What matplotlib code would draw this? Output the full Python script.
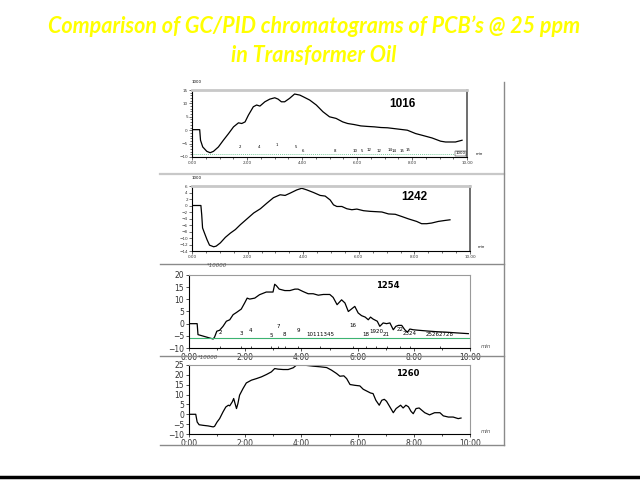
import matplotlib
matplotlib.use("Agg")
import matplotlib.pyplot as plt
from matplotlib.lines import Line2D
from matplotlib.ticker import MultipleLocator

W, H = 640, 480

# ---- data (time in min, response x1000 / x10000) ----
t1016 = [0.0, 0.28, 0.31, 0.39, 0.54, 0.66, 0.78, 0.96, 1.14, 1.33, 1.51, 1.69, 1.81, 1.93,
         2.05, 2.23, 2.35, 2.47, 2.65, 2.83, 3.01, 3.13, 3.25, 3.37, 3.55, 3.73, 3.92, 4.04,
         4.28, 4.52, 4.76, 5.0, 5.24, 5.48, 5.66, 5.9, 6.14, 6.39, 6.63, 6.87, 7.11, 7.35,
         7.83, 8.13, 8.37, 8.73, 9.04, 9.22, 9.58, 9.82]
y1016 = [0.2, 0.2, -3.75, -6.25, -7.9, -8.4, -7.9, -6.25, -3.75, -1.25, 1.25, 2.75, 2.5, 3.1,
         5.6, 8.75, 9.4, 9.0, 10.6, 11.6, 12.1, 11.6, 10.6, 10.6, 11.9, 13.5, 13.1, 12.5,
         11.25, 9.4, 6.9, 5.0, 4.4, 3.1, 2.5, 2.1, 1.6, 1.4, 1.25, 1.0, 0.9, 0.6,
         0.0, -1.25, -1.9, -2.9, -4.1, -4.4, -4.4, -3.75]
peaks1016_t = [1.75, 2.45, 3.1, 3.77, 4.04, 5.2, 5.94, 6.18, 6.45, 6.8, 7.2, 7.35, 7.65, 7.87]
peaks1016_y = [-6.3, -6.3, -5.6, -6.3, -7.6, -7.6, -7.6, -7.6, -7.4, -7.6, -7.4, -7.6, -7.6, -7.4]
peaks1016_lab = ["2", "4", "1", "5", "6", "8", "10", "5", "12", "12", "14", "14", "15", "15"]

t1242 = [0.0, 0.32, 0.35, 0.38, 0.45, 0.54, 0.63, 0.78, 0.87, 1.02, 1.2, 1.38, 1.56, 1.74,
         1.98, 2.22, 2.46, 2.69, 2.93, 3.17, 3.35, 3.53, 3.77, 3.95, 4.13, 4.37, 4.61, 4.79,
         4.97, 5.09, 5.21, 5.39, 5.57, 5.75, 5.93, 6.17, 6.41, 6.83, 7.07, 7.31, 7.55, 7.78,
         8.08, 8.26, 8.44, 8.62, 8.86, 9.1, 9.28]
y1242 = [0.0, 0.0, -2.9, -6.9, -8.5, -10.5, -12.2, -12.7, -12.5, -11.5, -9.8, -8.5, -7.4, -5.9,
         -4.1, -2.3, -1.0, 0.7, 2.4, 3.3, 3.1, 3.8, 4.8, 5.3, 4.8, 4.0, 3.1, 2.9,
         1.7, 0.2, -0.3, -0.3, -1.0, -1.3, -1.1, -1.6, -1.8, -2.0, -2.6, -2.7, -3.4, -4.1,
         -4.9, -5.6, -5.6, -5.4, -4.9, -4.6, -4.4]

t1254 = [0.0, 0.29, 0.32, 0.44, 0.62, 0.74, 0.86, 0.91, 0.99, 1.09, 1.21, 1.33, 1.45, 1.57,
         1.69, 1.86, 1.98, 2.07, 2.16, 2.34, 2.51, 2.75, 2.99, 3.05, 3.11, 3.21, 3.41, 3.59,
         3.77, 3.88, 4.06, 4.24, 4.42, 4.6, 4.78, 5.01, 5.13, 5.27, 5.43, 5.55, 5.67, 5.78,
         5.9, 6.02, 6.14, 6.27, 6.38, 6.46, 6.55, 6.7, 6.79, 6.91, 7.03, 7.15, 7.27, 7.36,
         7.45, 7.57, 7.68, 7.77, 7.86, 7.98, 8.16, 8.46, 8.81, 9.17, 9.53, 9.94]
y1254 = [0.0, 0.0, -4.5, -4.9, -5.5, -5.9, -6.3, -5.5, -3.1, -2.7, -1.1, 1.0, 1.6, 3.7,
         4.6, 6.0, 8.5, 10.5, 10.1, 10.5, 11.9, 13.0, 13.0, 16.2, 15.6, 14.2, 13.6, 13.6,
         14.2, 14.2, 13.2, 12.3, 12.3, 11.7, 12.0, 12.0, 10.8, 7.8, 9.8, 8.5, 5.0, 6.0,
         7.1, 4.4, 3.3, 2.7, 1.6, 2.7, 1.9, 1.0, -1.1, 0.3, 0.0, 0.3, -2.5, -1.1,
         -0.7, -0.7, -2.5, -3.5, -2.2, -2.5, -2.7, -3.0, -3.3, -3.5, -3.8, -4.1]
peaks1254_t = [1.12, 1.86, 2.19, 2.93, 3.17, 3.41, 3.88, 4.66, 5.82, 6.29, 6.67, 7.03, 7.5, 7.86, 8.93]
peaks1254_y = [-3.5, -4.1, -2.7, -4.9, -1.1, -4.5, -2.7, -4.5, -0.8, -4.5, -3.1, -4.5, -2.5, -4.1, -4.5]
peaks1254_lab = ["2", "3", "4", "5", "7", "8", "9", "10111345", "16", "18", "1920", "21", "22",
                 "2324", "25262728"]

t1260 = [0.0, 0.24, 0.29, 0.36, 0.5, 0.68, 0.86, 0.91, 1.0, 1.09, 1.21, 1.31, 1.4, 1.45,
         1.54, 1.59, 1.64, 1.69, 1.74, 1.8, 1.92, 2.04, 2.22, 2.4, 2.58, 2.76, 2.93, 3.05,
         3.17, 3.35, 3.53, 3.71, 3.83, 4.01, 4.18, 4.42, 4.66, 4.9, 5.07, 5.25, 5.37, 5.51,
         5.61, 5.73, 5.9, 6.08, 6.2, 6.46, 6.55, 6.65, 6.77, 6.86, 6.95, 7.03, 7.13, 7.27,
         7.37, 7.53, 7.62, 7.72, 7.81, 7.9, 7.98, 8.08, 8.19, 8.39, 8.56, 8.74, 8.93, 9.05,
         9.23, 9.4, 9.58, 9.68]
y1260 = [0.0, 0.0, -3.9, -5.3, -5.6, -5.9, -6.4, -6.1, -3.9, -2.2, 1.2, 3.7, 4.6, 4.3,
         6.3, 8.0, 5.4, 2.9, 5.4, 9.7, 13.0, 15.9, 17.3, 18.1, 19.0, 20.2, 21.5, 23.2,
         22.9, 22.7, 22.7, 23.6, 25.0, 25.0, 24.8, 24.4, 24.1, 23.7, 22.4, 20.7, 19.3, 19.5,
         18.1, 15.1, 14.7, 14.4, 12.7, 10.8, 10.5, 7.1, 4.6, 7.1, 7.6, 6.6, 4.2, 0.8,
         2.9, 4.6, 3.2, 4.6, 3.8, 1.5, 0.3, 2.9, 3.2, 0.8, -0.3, 0.8, 0.8, -0.8, -1.4,
         -1.4, -2.2, -1.9]
y1260 = y1260[:len(t1260)]

label_1016, label_1242, label_1254, label_1260 = "1016", "1242", "1254", "1260"
title = "Comparison of GC/PID chromatograms of PCB\u2019s @ 25 ppm\nin Transformer Oil"


def ax_at(fig, left, top, right, bottom):
    return fig.add_axes([left / W, 1 - bottom / H, (right - left) / W, (bottom - top) / H])


def ftext(x, y, s, **kw):
    # x, y in picture pixels from the top-left corner
    return fig.text(x / W, 1 - y / H, s, **kw)


def style_small(ax, top_col="#c8c8c8"):
    ax.spines["top"].set_color(top_col)
    ax.spines["top"].set_linewidth(2.0)
    ax.spines["right"].set_color("#555555")
    ax.spines["right"].set_linewidth(1.2)
    ax.spines["left"].set_linewidth(0.8)
    ax.spines["bottom"].set_linewidth(0.8)
    ax.tick_params(labelsize=3, length=2, width=0.5, pad=1, colors="#333333")
    ax.tick_params(which="minor", length=1.2, width=0.4)


def style_big(ax):
    ax.spines["top"].set_color("#9a9a9a")
    ax.spines["right"].set_color("#9a9a9a")
    ax.spines["left"].set_linewidth(0.8)
    ax.spines["bottom"].set_linewidth(0.8)
    ax.tick_params(labelsize=5.5, length=2.5, width=0.6, pad=1, colors="#333333")
    ax.tick_params(which="minor", length=1.5, width=0.5)


fig = plt.figure(figsize=(6.4, 4.8), dpi=100)
fig.patch.set_facecolor("white")

fig.text(0.49, 0.915, title, ha="center", va="center", color="#ffff00", fontsize=15.5,
         fontweight="bold", fontstyle="italic", family=["Lato", "DejaVu Sans"], linespacing=1.45)

# frame of the pasted picture
for y in [174, 264, 356, 445]:
    col = "#c8c8c8" if y == 174 else "#8a8a8a"
    fig.add_artist(Line2D([160 / W, 504 / W], [1 - y / H, 1 - y / H], color=col,
                          lw=1.6 if y == 174 else 1.0))
fig.add_artist(Line2D([504 / W, 504 / W], [1 - 82 / H, 1 - 445 / H], color="#8a8a8a", lw=1.0))
fig.add_artist(Line2D([0, 1], [1 - 477 / H, 1 - 477 / H], color="black", lw=2.5))

# ---- 1016 ----
ax1 = ax_at(fig, 192, 90, 467, 157)
ax1.plot(t1016, y1016, color="black", lw=0.9)
ax1.axhline(-8.9, color="#7fcf9f", lw=0.7, ls=(0, (1, 1)))
for tt, yy, s in zip(peaks1016_t, peaks1016_y, peaks1016_lab):
    ax1.text(tt, yy, s, fontsize=2.8, ha="center", va="center")
ax1.text(9.75, -8.6, "1000", fontsize=2.8, ha="center", va="center",
         bbox=dict(boxstyle="square,pad=0.1", fc="white", ec="black", lw=0.3))
ax1.set_xlim(0, 10)
ax1.set_ylim(-10, 15)
ax1.set_xticks([0, 2, 4, 6, 8, 10], ["0.00", "2.00", "4.00", "6.00", "8.00", "10.00"])
ax1.set_yticks([-10, -5, 0, 5, 10, 15])
ax1.xaxis.set_minor_locator(MultipleLocator(0.5))
ax1.yaxis.set_minor_locator(MultipleLocator(1))
style_small(ax1)
ftext(389, 104, label_1016, fontsize=8.5, fontweight="bold", va="center", family="Liberation Sans")
ftext(192, 82, "1000", fontsize=2.8, va="center", ha="left")
ftext(476, 155, "min", fontsize=2.8, fontstyle="italic")

# ---- 1242 ----
ax2 = ax_at(fig, 192, 186, 470, 251)
ax2.plot(t1242, y1242, color="black", lw=0.9)
ax2.set_xlim(0, 10)
ax2.set_ylim(-14, 6)
ax2.set_xticks([0, 2, 4, 6, 8, 10], ["0.00", "2.00", "4.00", "6.00", "8.00", "10.00"])
ax2.set_yticks(range(-14, 7, 2))
ax2.xaxis.set_minor_locator(MultipleLocator(0.5))
style_small(ax2)
ftext(401, 197, label_1242, fontsize=8.5, fontweight="bold", va="center", family="Liberation Sans")
ftext(192, 178, "1000", fontsize=2.8, va="center", ha="left")
ftext(478, 248, "min", fontsize=2.8, fontstyle="italic")

# ---- 1254 ----
ax3 = ax_at(fig, 189, 275, 470, 348)
ax3.plot(t1254, y1254, color="black", lw=0.9)
ax3.axhline(-5.9, color="#3cb371", lw=0.8)
for tt, yy, s in zip(peaks1254_t, peaks1254_y, peaks1254_lab):
    ax3.text(tt, yy, s, fontsize=4, ha="center", va="center")
ax3.plot(peaks1254_t, [-9.6] * len(peaks1254_t), ls="none", marker="|", ms=2, mew=0.5, color="black")
ax3.set_xlim(0, 10)
ax3.set_ylim(-10, 20)
ax3.set_xticks([0, 2, 4, 6, 8, 10], ["0:00", "2:00", "4:00", "6:00", "8:00", "10:00"])
ax3.set_yticks([-10, -5, 0, 5, 10, 15, 20])
ax3.xaxis.set_minor_locator(MultipleLocator(1))
style_big(ax3)
ftext(376, 285, label_1254, fontsize=6, fontweight="bold", va="center")
ftext(207, 267, "*10000", fontsize=4, fontstyle="italic", color="#555555")
ftext(481, 348, "min", fontsize=4, fontstyle="italic", color="#555555")

# ---- 1260 ----
ax4 = ax_at(fig, 189, 365, 470, 434)
ax4.plot(t1260, y1260, color="black", lw=0.9)
ax4.set_xlim(0, 10)
ax4.set_ylim(-10, 25)
ax4.set_xticks([0, 2, 4, 6, 8, 10], ["0:00", "2:00", "4:00", "6:00", "8:00", "10:00"])
ax4.set_yticks([-10, -5, 0, 5, 10, 15, 20, 25])
ax4.xaxis.set_minor_locator(MultipleLocator(1))
style_big(ax4)
ftext(396, 373, label_1260, fontsize=6, fontweight="bold", va="center")
ftext(198, 359, "*10000", fontsize=4, fontstyle="italic", color="#555555")
ftext(481, 433, "min", fontsize=4, fontstyle="italic", color="#555555")

fig.savefig("out.png", dpi=100)
